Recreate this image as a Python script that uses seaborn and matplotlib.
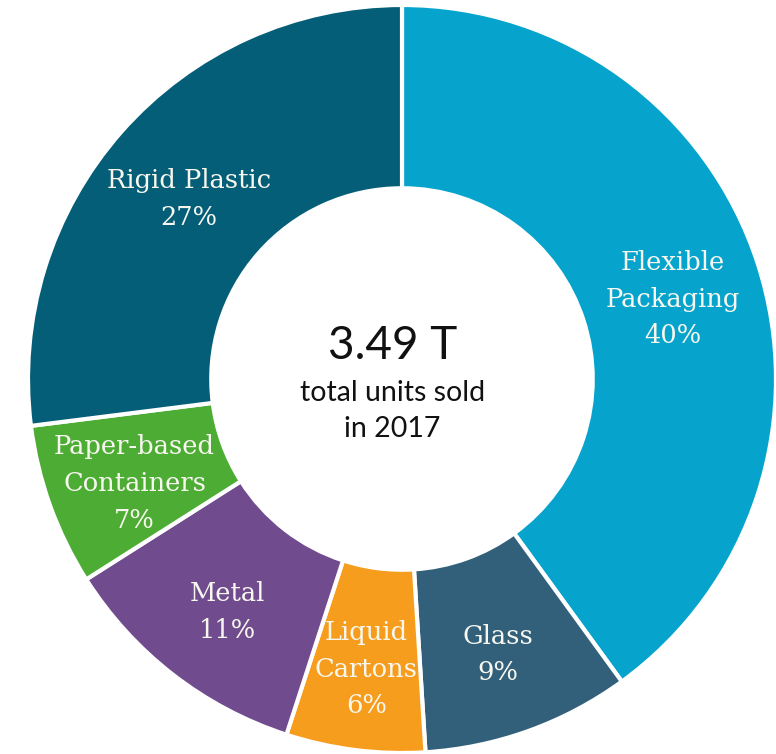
import matplotlib
matplotlib.use("Agg")
import matplotlib.pyplot as plt
import seaborn as sns

sns.set_theme(style="white")

categories = ["Flexible\nPackaging", "Glass", "Liquid\nCartons", "Metal",
              "Paper-based\nContainers", "Rigid Plastic"]
shares = [40, 9, 6, 11, 7, 27]
colors = ["#06A4CC", "#32607A", "#F79D1D", "#704C8E", "#4CAC34", "#055E78"]
center_big = "3.49 T"
center_small = "total units sold\nin 2017"

W, H = 776, 754
cx, cy, R = 402, 379, 374

fig = plt.figure(figsize=(W / 100, H / 100), dpi=100)
ax = fig.add_axes([0, 0, 1, 1])

labels = [f"{c}\n{v}%" for c, v in zip(categories, shares)]
wedges, texts = ax.pie(
    shares, labels=labels, colors=colors, startangle=90, counterclock=False,
    radius=1.0, labeldistance=0.76,
    wedgeprops=dict(width=0.49, edgecolor="white", linewidth=3),
    textprops=dict(color="#F7F7EF", family="DejaVu Serif", fontsize=18.5),
)
for t in texts:
    t.set_ha("center")
    t.set_va("center")
    t.set_linespacing(1.58)
    x, y = t.get_position()
    t.set_position((x, y - 0.022))

ax.text(-0.025, (cy - 346) / R, center_big, ha="center", va="center",
        family="Lato", fontsize=33, color="#111111")
ax.text(-0.025, (cy - 411) / R, center_small, ha="center", va="center",
        family="Lato", fontsize=20.5, color="#111111", linespacing=1.5)

ax.set_xlim(-cx / R, (W - cx) / R)
ax.set_ylim(-(H - cy) / R, cy / R)
ax.set_aspect("equal")
ax.axis("off")

fig.savefig("out.png", dpi=100, facecolor="white")
